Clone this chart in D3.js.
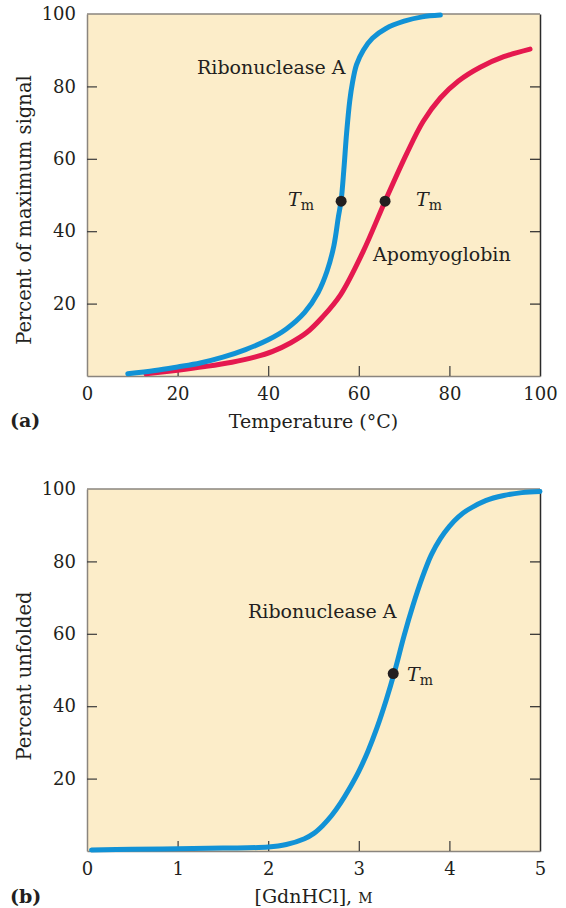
<!DOCTYPE html>
<html>
<head>
  <meta charset="utf-8">
  <title>protein denaturation curves</title>
  <script src="https://d3js.org/d3.v7.min.js"></script>
  <style>
    body { margin: 0; background: #fff; }
    text { font-family: "DejaVu Serif", serif; fill: #231f20; }
  </style>
</head>
<body>
<script>
// ---- data ----
var tempTicks = [0, 20, 40, 60, 80, 100];
var percentTicks = [20, 40, 60, 80, 100];
var gdnTicks = [0, 1, 2, 3, 4, 5];

// (a) temperature (°C) vs percent of maximum signal
var ribonucleaseTemp = [
  [9, 0.6], [15, 1.5], [20, 2.5], [25, 3.6], [30, 5.2], [35, 7.3], [40, 10],
  [44, 13], [48, 17.5], [51, 23], [53, 29], [54.5, 36], [55.5, 44], [56.1, 48.5],
  [56.7, 57], [57.3, 67], [58, 76], [58.6, 81], [59.5, 86], [61, 90], [63, 93.3],
  [66, 96], [70, 98], [74, 99.2], [78, 99.7]
];
var apomyoglobinTemp = [
  [13, 0.6], [20, 1.6], [26, 2.6], [32, 3.8], [37, 5.2], [41, 6.8], [45, 9.2],
  [48.5, 12], [52, 16.3], [56, 22.5], [61, 34.5], [65.8, 48.3], [70.6, 61.5],
  [74.2, 70.3], [78, 76.8], [82, 81.5], [86.8, 85.3], [92, 88.2], [97.8, 90.3]
];
var tmTemp = [[56.1, 48.3], [65.8, 48.3]];

// (b) [GdnHCl] (M) vs percent unfolded
var ribonucleaseGdn = [
  [0.05, 0.3], [0.5, 0.5], [1, 0.6], [1.5, 0.8], [2, 1.1], [2.2, 1.8], [2.4, 3.4],
  [2.5, 4.8], [2.6, 7], [2.7, 9.8], [2.8, 13.3], [2.9, 17.4], [3.0, 22], [3.1, 27.5],
  [3.2, 34], [3.3, 41.5], [3.4, 50], [3.5, 59.5], [3.6, 68], [3.7, 75.5],
  [3.8, 81.8], [3.9, 86.3], [4.0, 89.7], [4.1, 92.3], [4.2, 94.2], [4.4, 96.8],
  [4.6, 98.2], [4.8, 99], [5.0, 99.3]
];
var tmGdn = [[3.38, 49]];

// ---- layout ----
var svgWidth = 566, svgHeight = 908;
var plotLeft = 87, plotWidth = 453, plotHeight = 362;
var topA = 14, topB = 489;

var blue = "#1192d6", red = "#e5194f", paper = "#fcedc9";

var svg = d3.select("body").append("svg")
    .attr("width", svgWidth)
    .attr("height", svgHeight);

var y = d3.scaleLinear().domain([0, 100]).range([plotHeight, 0]);

function panel(top, xScale, xTicks) {
  var g = svg.append("g").attr("transform", "translate(" + plotLeft + "," + top + ")");

  g.append("rect")
      .attr("width", plotWidth)
      .attr("height", plotHeight)
      .attr("fill", paper);

  // left axis
  var left = g.append("g")
      .call(d3.axisLeft(y).tickValues(percentTicks).tickSize(-10).tickSizeOuter(0).tickPadding(11));
  // right axis
  var right = g.append("g")
      .attr("transform", "translate(" + plotWidth + ",0)")
      .call(d3.axisRight(y).tickValues([20, 40, 60, 80]).tickSize(-10).tickSizeOuter(0).tickFormat(""));
  // bottom axis
  var bottom = g.append("g")
      .attr("transform", "translate(0," + plotHeight + ")")
      .call(d3.axisBottom(xScale).tickValues(xTicks).tickSize(-10).tickSizeOuter(0)
        .tickPadding(11).tickFormat(d3.format("d")));

  [left, bottom].forEach(function(a) {
    a.select(".domain").attr("stroke", "#8a857e").attr("stroke-width", 1.5);
    a.selectAll(".tick line").attr("stroke", "#3a3a3a").attr("stroke-width", 1.2);
    a.selectAll(".tick text")
        .style("font-family", "DejaVu Serif, serif")
        .style("font-size", "18px")
        .attr("fill", "#231f20");
  });
  right.select(".domain").attr("stroke", "#2a2a2a").attr("stroke-width", 1.5);
  right.selectAll(".tick line").attr("stroke", "#2a2a2a").attr("stroke-width", 1.2);

  // top border
  g.append("line")
      .attr("x1", 0).attr("x2", plotWidth)
      .attr("y1", 0).attr("y2", 0)
      .attr("stroke", "#8a857e")
      .attr("stroke-width", 1.5);

  // tick marks at the very ends sit on the frame, hide them
  left.selectAll(".tick").filter(function(d) { return d === 100; }).select("line").remove();
  bottom.selectAll(".tick").filter(function(d, i) { return i === 0 || i === xTicks.length - 1; }).select("line").remove();

  return g;
}

function curve(g, xScale, data, color) {
  var line = d3.line()
      .curve(d3.curveCatmullRom.alpha(0.5))
      .x(function(d) { return xScale(d[0]); })
      .y(function(d) { return y(d[1]); });
  g.append("path")
      .datum(data)
      .attr("d", line)
      .attr("fill", "none")
      .attr("stroke", color)
      .attr("stroke-width", 5)
      .attr("stroke-linecap", "round");
}

function dots(g, xScale, data) {
  g.selectAll(null)
    .data(data)
    .enter().append("circle")
      .attr("cx", function(d) { return xScale(d[0]); })
      .attr("cy", function(d) { return y(d[1]); })
      .attr("r", 5.5)
      .attr("fill", "#231f20");
}

function tmLabel(g, px, py) {
  var t = g.append("text")
      .attr("x", px)
      .attr("y", py)
      .style("font-size", "19px");
  t.append("tspan").style("font-style", "italic").text("T");
  t.append("tspan").attr("dy", 4).style("font-size", "14px").text("m");
}

function label(g, px, py, s) {
  g.append("text")
      .attr("x", px)
      .attr("y", py)
      .style("font-size", "19px")
      .text(s);
}

// ---- panel (a) ----
var xTemp = d3.scaleLinear().domain([0, 100]).range([0, plotWidth]);
var gA = panel(topA, xTemp, tempTicks);
curve(gA, xTemp, apomyoglobinTemp, red);
curve(gA, xTemp, ribonucleaseTemp, blue);
dots(gA, xTemp, tmTemp);
label(gA, 110, 60, "Ribonuclease A");
label(gA, 286, 247, "Apomyoglobin");
tmLabel(gA, 201, 192);
tmLabel(gA, 329, 192);

svg.append("text")
    .attr("x", plotLeft + plotWidth / 2)
    .attr("y", 428)
    .attr("text-anchor", "middle")
    .style("font-size", "19px")
    .text("Temperature (\u00B0C)");
svg.append("text")
    .attr("x", 10).attr("y", 427)
    .style("font-size", "19px")
    .style("font-weight", "bold")
    .text("(a)");
svg.append("text")
    .attr("transform", "translate(31," + (topA + plotHeight / 2 + 15) + ") rotate(-90)")
    .attr("text-anchor", "middle")
    .style("font-size", "19.5px")
    .text("Percent of maximum signal");

// ---- panel (b) ----
var xGdn = d3.scaleLinear().domain([0, 5]).range([0, plotWidth]);
var gB = panel(topB, xGdn, gdnTicks);
curve(gB, xGdn, ribonucleaseGdn, blue);
dots(gB, xGdn, tmGdn);
label(gB, 161, 129, "Ribonuclease A");
tmLabel(gB, 320, 192);

var gdnTitle = svg.append("text")
    .attr("x", plotLeft + plotWidth / 2)
    .attr("y", 903)
    .attr("text-anchor", "middle")
    .style("font-size", "19px");
gdnTitle.append("tspan").text("[GdnHCl], ");
gdnTitle.append("tspan").style("font-size", "14px").text("M");
svg.append("text")
    .attr("x", 10).attr("y", 903)
    .style("font-size", "19px")
    .style("font-weight", "bold")
    .text("(b)");
svg.append("text")
    .attr("transform", "translate(31," + (topB + plotHeight / 2 + 6) + ") rotate(-90)")
    .attr("text-anchor", "middle")
    .style("font-size", "19.5px")
    .text("Percent unfolded");
</script>
</body>
</html>
